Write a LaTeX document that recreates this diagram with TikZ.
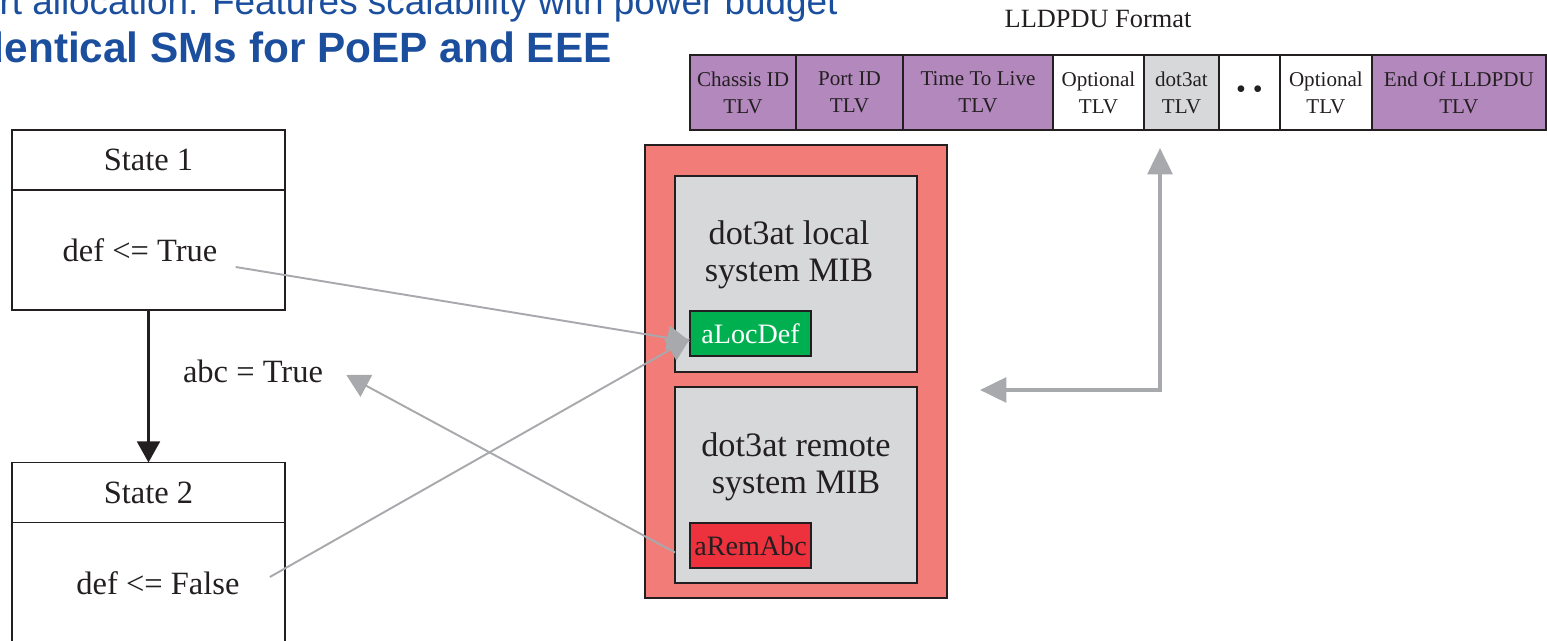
\documentclass[tikz,border=0pt]{standalone}
\usepackage{fontspec}
\setmainfont{Liberation Serif}
\newfontfamily\headfont{Liberation Sans}
\usepackage{tikz}
\usetikzlibrary{positioning}
\usetikzlibrary{arrows.meta}

\definecolor{ink}{RGB}{35,31,32}
\definecolor{titleblue}{RGB}{27,79,158}
\definecolor{tlvpurple}{RGB}{178,136,189}
\definecolor{mibgrey}{RGB}{215,216,218}
\definecolor{mibred}{RGB}{242,124,120}
\definecolor{locgreen}{RGB}{0,176,80}
\definecolor{remred}{RGB}{237,50,62}
\definecolor{linkgrey}{RGB}{167,169,172}

\tikzset{
  box/.style={draw=ink, line width=1.1pt, inner sep=0pt, outer sep=0pt, text=ink},
  tlv/.style={box, minimum height=1.5cm, align=center, font=\fontsize{12}{15.4}\selectfont},
  statehead/.style={box, minimum width=5.46cm, minimum height=1.2cm, font=\fontsize{18.5}{22}\selectfont},
  statebody/.style={box, minimum width=5.46cm, minimum height=2.4cm},
  stxt/.style={text=ink, inner sep=0pt, font=\fontsize{18.5}{22}\selectfont},
  mib/.style={box, fill=mibgrey, minimum width=4.84cm, minimum height=3.92cm},
  mibtext/.style={text=ink, align=center, inner sep=0pt, font=\fontsize{19.5}{20.8}\selectfont},
  attr/.style={box, minimum width=2.42cm, minimum height=0.9cm, font=\fontsize{16}{19}\selectfont},
  link/.style={draw=linkgrey, line width=1.1pt, -{Triangle[length=13pt,width=14pt]}},
  biglink/.style={draw=linkgrey, line width=2.3pt, {Triangle[length=15pt,width=14pt]}-{Triangle[length=15pt,width=14pt]}},
}

\begin{document}
\begin{tikzpicture}[x=0.02cm, y=-0.02cm]
\useasboundingbox (0,0) rectangle (1547,641);

% slide heading (cut by the frame)
\node[anchor=base east, inner sep=0pt, text=titleblue, font=\headfont\fontsize{21}{25}\selectfont] (sub) at (838,15) {rt allocation. Features scalability with power budget};
\node[anchor=base east, inner sep=0pt, text=titleblue, font=\headfont\bfseries\fontsize{24.1}{28}\selectfont] (title) at (612,63) {Identical SMs for PoEP and EEE};

% LLDPDU format
\node[anchor=base, inner sep=0pt, text=ink, font=\fontsize{15}{18}\selectfont] (fmt) at (1098,28) {LLDPDU Format};
\node[tlv, fill=tlvpurple, minimum width=2.12cm] (chassis) at (743,92.5) {Chassis ID\\TLV};
\node[tlv, fill=tlvpurple, minimum width=2.14cm, right=0pt of chassis] (port) {Port ID\\TLV};
\node[tlv, fill=tlvpurple, minimum width=3cm, right=0pt of port] (ttl) {Time To Live\\TLV};
\node[tlv, fill=white, minimum width=1.82cm, right=0pt of ttl] (opt1) {Optional\\TLV};
\node[tlv, fill=mibgrey, minimum width=1.5cm, right=0pt of opt1] (dot3) {dot3at\\TLV};
\node[tlv, fill=white, minimum width=1.22cm, right=0pt of dot3, font=\fontsize{16}{19}\selectfont] (dots) {\textbullet\ \textbullet};
\node[tlv, fill=white, minimum width=1.84cm, right=0pt of dots] (opt2) {Optional\\TLV};
\node[tlv, fill=tlvpurple, minimum width=3.48cm, right=0pt of opt2] (endpdu) {End Of LLDPDU\\TLV};

% MIBs
\node[box, fill=mibred, minimum width=6.04cm, minimum height=9.06cm] (mibs) at (796,371.5) {};
\node[mib] (mibloc) at (796,274) {};
\node[mib] (mibrem) at (796,485) {};
\node[mibtext] (loctxt) at (789,255) {dot3at local\\system MIB};
\node[mibtext] (remtxt) at (796,467) {dot3at remote\\system MIB};
\node[attr, fill=locgreen, text=white, anchor=south west] (alocdef) at ([shift={(15,-16)}]mibloc.south west) {aLocDef};
\node[attr, fill=remred, anchor=south west] (aremabc) at ([shift={(15,-15)}]mibrem.south west) {aRemAbc};

% state machine
\node[statehead] (s1head) at (148.5,160) {State 1};
\node[statebody, below=0pt of s1head] (s1body) {};
\node[stxt] (s1act) at (140,250) {def <= True};
\node[statehead] (s2head) at (148.5,492.5) {State 2};
\node[statebody, below=0pt of s2head] (s2body) {};
\node[stxt] (s2act) at (158,583) {def <= False};
\node[stxt] (cond) at (253,371) {abc = True};
\draw[line width=1.4pt, draw=ink, -{Triangle[length=12pt,width=13pt]}] (s1body) -- (s2head);

\draw[link] ([shift={(18,17)}]s1act.east) -- ([shift={(0,8)}]alocdef.west);
\draw[link] ([shift={(30,-6)}]s2act.east) -- ([shift={(0,5)}]alocdef.west);
\draw[link] ([shift={(-15,7)}]aremabc.west) -- ([shift={(23,4)}]cond.east);

\coordinate (bend) at (1160,390);
\draw[biglink, shorten <=0.36cm, shorten >=0.66cm] (bend |- dot3.south) -- (bend) -- (bend -| mibs.east);
\end{tikzpicture}
\end{document}
